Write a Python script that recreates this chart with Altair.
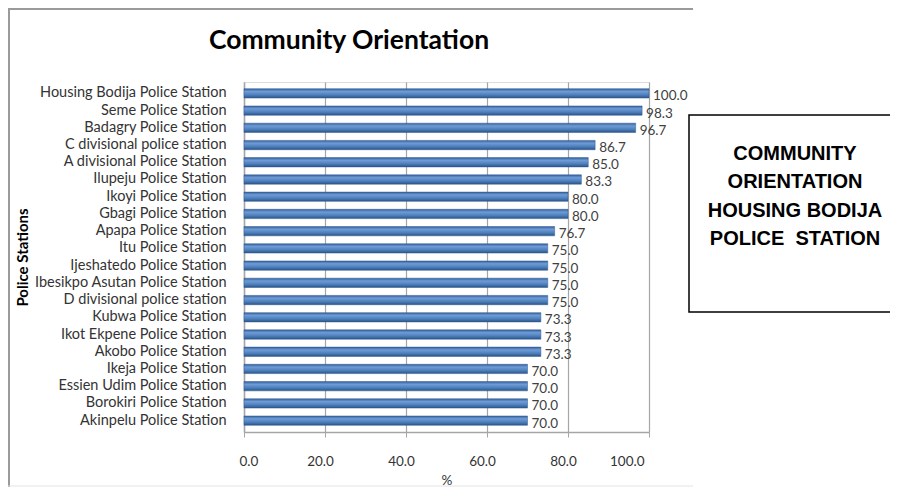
import altair as alt
import pandas as pd

stations = [
    "Housing Bodija Police Station",
    "Seme Police Station",
    "Badagry Police Station",
    "C divisional police station",
    "A divisional Police Station",
    "Ilupeju Police Station",
    "Ikoyi Police Station",
    "Gbagi Police Station",
    "Apapa Police Station",
    "Itu Police Station",
    "Ijeshatedo Police Station",
    "Ibesikpo Asutan Police Station",
    "D divisional police station",
    "Kubwa Police Station",
    "Ikot Ekpene Police Station",
    "Akobo Police Station",
    "Ikeja Police Station",
    "Essien Udim Police Station",
    "Borokiri Police Station",
    "Akinpelu Police Station",
]
values = [100.0, 98.3, 96.7, 86.7, 85.0, 83.3, 80.0, 80.0, 76.7, 75.0,
          75.0, 75.0, 75.0, 73.3, 73.3, 73.3, 70.0, 70.0, 70.0, 70.0]
x_ticks = [0, 20, 40, 60, 80, 100]
chart_title = "Community Orientation"
box_lines = ["COMMUNITY", "ORIENTATION", "HOUSING BODIJA", "POLICE\u00a0\u00a0STATION"]

df = pd.DataFrame({"station": stations, "value": values})

FONT = "Lato"
W, H = 405, 350

y_enc = alt.Y(
    "station:N",
    sort=stations,
    scale=alt.Scale(paddingInner=0.46, paddingOuter=0.39),
    axis=alt.Axis(
        title="Police Stations",
        titleFont=FONT, titleFontSize=15, titleFontWeight="bold", titleColor="#000000",
        titleX=-222, titleY=H / 2, titleAngle=-90, titleBaseline="middle", titleAlign="center",
        labelFont=FONT, labelFontSize=14.5, labelColor="#333333", labelPadding=18,
        ticks=False, domain=True, domainColor="#a6a6a6", domainWidth=1.5, grid=False,
        labelLimit=300,
    ),
)
x_enc = alt.X(
    "value:Q",
    scale=alt.Scale(domain=[0, 100], nice=False),
    axis=alt.Axis(
        values=x_ticks, format=".1f", title="%",
        titleFont=FONT, titleFontSize=13.5, titleFontWeight="normal", titleColor="#333333",
        titlePadding=6,
        labelFont=FONT, labelFontSize=13.5, labelColor="#333333", labelPadding=17,
        labelOffset=-5,
        ticks=True, tickSize=5, tickColor="#a6a6a6",
        domain=True, domainColor="#a6a6a6", domainWidth=1.5,
        grid=True, gridColor="#a6a6a6", gridWidth=1.2,
    ),
)

grad = alt.LinearGradient(
    gradient="linear", x1=0, y1=0, x2=0, y2=1,
    stops=[
        alt.GradientStop(color="#34609a", offset=0),
        alt.GradientStop(color="#6f9bd6", offset=0.3),
        alt.GradientStop(color="#4f81bd", offset=0.65),
        alt.GradientStop(color="#2b5487", offset=1),
    ],
)

base = alt.Chart(df)
bars = base.mark_bar(color=grad, stroke="#2f5b94", strokeWidth=0.5).encode(x=x_enc, y=y_enc)
labels = base.mark_text(
    align="left", baseline="middle", dx=4, dy=3, font=FONT, fontSize=13.5, color="#404040"
).encode(
    x="value:Q",
    y=alt.Y("station:N", sort=stations),
    text=alt.Text("value:Q", format=".1f"),
)

one = alt.Data(values=[{"k": 1}])

frame_top = alt.Chart(one).mark_rule(color="#9a9a9a", strokeWidth=2).encode(
    x=alt.value(-236), x2=alt.value(449), y=alt.value(-73)
)
frame_left = alt.Chart(one).mark_rule(color="#9a9a9a", strokeWidth=2).encode(
    x=alt.value(-235), y=alt.value(-74), y2=alt.value(405)
)
frame_bottom = alt.Chart(one).mark_rule(color="#e4e4e4", strokeWidth=1).encode(
    x=alt.value(-236), x2=alt.value(449), y=alt.value(404)
)

title_text = alt.Chart(one).mark_text(
    text=chart_title, align="center", baseline="alphabetic",
    font=FONT, fontSize=26.5, fontWeight="bold", color="#000000",
).encode(x=alt.value(105), y=alt.value(-33))

box = alt.Chart(one).mark_rect(fill="white", stroke="#000000", strokeWidth=1.5).encode(
    x=alt.value(445), x2=alt.value(700), y=alt.value(33), y2=alt.value(230)
)
box_text = alt.Chart(one).mark_text(
    text=box_lines, align="center", baseline="alphabetic", lineHeight=28.3,
    font="Liberation Sans", fontSize=20, fontWeight="bold", color="#000000",
).encode(x=alt.value(551), y=alt.value(78))

chart = alt.layer(
    frame_top, frame_left, frame_bottom, title_text, bars, labels, box, box_text
).properties(
    width=W, height=H,
    autosize=alt.AutoSizeParams(type="none"),
    padding={"left": 236, "top": 74, "right": 241, "bottom": 56},
).configure_view(stroke=None).configure(background="white")

chart.save("out.html", embed_options={"renderer": "svg", "actions": False})
